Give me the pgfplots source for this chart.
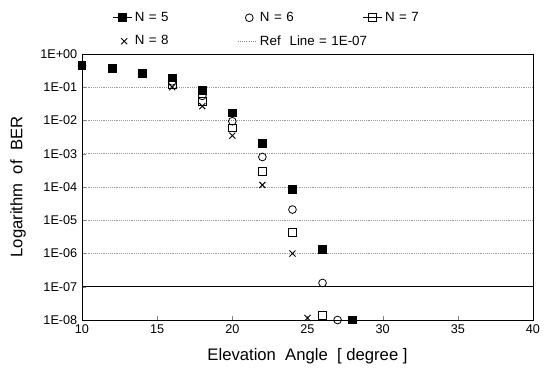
\documentclass[border=0pt]{standalone}
\usepackage{fontspec}
\setmainfont{Liberation Sans}
\usepackage{pgfplots}
\pgfplotsset{compat=1.18}
\pgfplotsset{
 legline/.style={legend image code/.code={\draw[black, line width=0.6pt] (0cm,0cm)--(0.5cm,0cm); \draw[##1] plot coordinates {(0.25cm,0cm)};}},
 legref/.style={legend image code/.code={\draw[densely dotted, gray, line width=0.6pt] (0cm,0cm)--(0.5cm,0cm);}},
}
\begin{document}
\begin{tikzpicture}
\begin{axis}[
 scale only axis, width=338.25pt, height=199.5pt,
 xmin=10, xmax=40, ymode=log, ymin=1e-8, ymax=1,
 xtick={10,15,...,40},
 ytick={1e-8,1e-7,1e-6,1e-5,1e-4,1e-3,1e-2,1e-1,1},
 yticklabels={1E-08,1E-07,1E-06,1E-05,1E-04,1E-03,1E-02,1E-01,1E+00},
 yminorticks=false,
 ymajorgrids, major grid style={densely dotted, gray!80, line width=0.6pt},
 tick align=inside, major tick length=3pt,
 xtick pos=bottom, ytick pos=left,
 /pgf/number format/assume math mode=true,
 ticklabel style={font=\fontsize{9.5}{11}\selectfont},
 xlabel={Elevation\ \ Angle\ \ [ degree ]},
 ylabel={Logarithm\ \ of\ \ BER},
 label style={font=\fontsize{12.5}{14}\selectfont},
 xlabel style={at={(axis description cs:0.5,-0.135)}, anchor=center},
 ylabel style={at={(axis description cs:-0.142,0.5)}, anchor=center},
 axis line style={black, line width=0.6pt},
 clip=false,
 legend columns=3,
 legend cell align=left,
 legend style={draw=none, fill=none, at={(axis description cs:0.058,1)}, anchor=south west, yshift=1pt,
   font=\fontsize{10}{12}\selectfont, row sep=5pt,
   /tikz/every even column/.append style={text width=75pt}},
]
\addplot[only marks, mark=square*, mark size=2.9pt, mark options={fill=black, draw=black}, line width=0.6pt, legline]
 coordinates {(10,0.45) (12,0.38) (14,0.27) (16,0.19) (18,0.08) (20,0.017) (22,0.002) (24,8.3e-5) (26,1.3e-6) (28,1e-8)};
\addlegendentry{N = 5}
\addplot[only marks, mark=o, mark size=2.9pt, black, line width=0.6pt]
 coordinates {(10,0.45) (12,0.37) (14,0.26) (16,0.15) (18,0.055) (20,0.0095) (22,8e-4) (24,2.1e-5) (26,1.3e-7) (27,1e-8)};
\addlegendentry{N = 6}
\addplot[only marks, mark=square, mark size=2.9pt, black, line width=0.6pt, legline]
 coordinates {(10,0.44) (12,0.37) (14,0.25) (16,0.12) (18,0.038) (20,0.006) (22,3e-4) (24,4.3e-6) (26,1.4e-8)};
\addlegendentry{N = 7}
\addplot[only marks, mark=x, mark size=3.2pt, black, line width=0.7pt]
 coordinates {(10,0.43) (12,0.36) (14,0.24) (16,0.1) (18,0.027) (20,0.0035) (22,1.15e-4) (24,1e-6) (25,1.15e-8)};
\addlegendentry{N = 8}
\addplot[black, line width=0.8pt, legref]
 coordinates {(10,1e-7) (40,1e-7)};
\addlegendentry{\mbox{Ref\ \ Line = 1E-07}}
\end{axis}
\path ([shift={(-61.5pt,-36.75pt)}]current axis.south west) rectangle ([shift={(9.75pt,40.5pt)}]current axis.north east);
\end{tikzpicture}
\end{document}
